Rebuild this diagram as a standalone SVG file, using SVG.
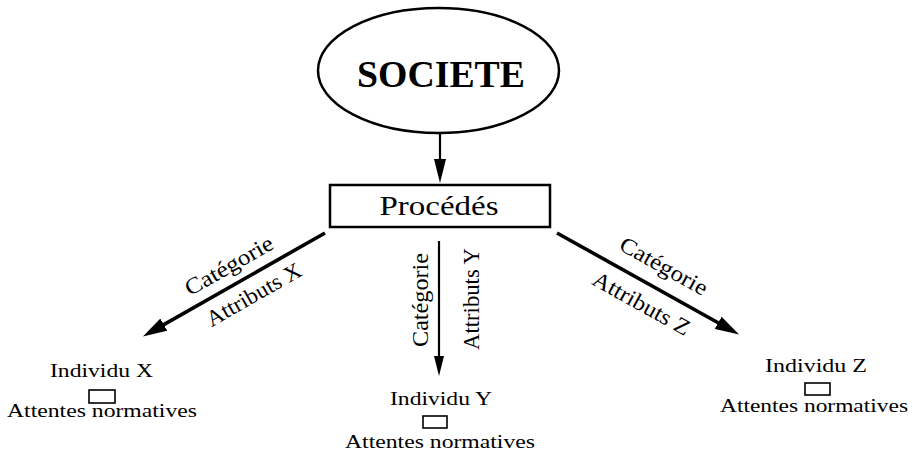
<svg xmlns="http://www.w3.org/2000/svg" width="913" height="463" viewBox="0 0 913 463">
  <style>
    .lbl { font-family: "Liberation Serif", "Times New Roman", serif; fill: #000; text-anchor: middle; }
    .shape { fill: #fff; stroke: #000; }
    .edge { stroke: #000; fill: none; }
  </style>
  <defs>
    <marker id="headHeavy" viewBox="0 0 24 14" refX="1" refY="7" markerWidth="24" markerHeight="14" markerUnits="userSpaceOnUse" orient="auto">
      <path d="M0,0 L24,7 L0,14 z" fill="#000"/>
    </marker>
    <marker id="headTop" viewBox="0 0 24 12" refX="1" refY="6" markerWidth="24" markerHeight="12" markerUnits="userSpaceOnUse" orient="auto">
      <path d="M0,0 L24,6 L0,12 z" fill="#000"/>
    </marker>
    <marker id="headLight" viewBox="0 0 20 10" refX="1" refY="5" markerWidth="20" markerHeight="10" markerUnits="userSpaceOnUse" orient="auto">
      <path d="M0,0 L20,5 L0,10 z" fill="#000"/>
    </marker>
  </defs>

  <rect width="913" height="463" fill="#fff"/>

  <!-- connectors -->
  <g id="connectors">
    <line class="edge" x1="440" y1="133" x2="440" y2="160" stroke-width="2.2" marker-end="url(#headTop)"/>
    <line class="edge" x1="325" y1="233" x2="162.9" y2="325.1" stroke-width="3.6" marker-end="url(#headHeavy)"/>
    <line class="edge" x1="439" y1="241" x2="439" y2="357" stroke-width="2.2" marker-end="url(#headLight)"/>
    <line class="edge" x1="557" y1="233" x2="719" y2="323.3" stroke-width="3.6" marker-end="url(#headHeavy)"/>

    <!-- edge labels -->
    <text class="lbl" font-size="22.5" textLength="98" lengthAdjust="spacingAndGlyphs" x="232.7" y="272" transform="rotate(-29.6 232.7 272)">Catégorie</text>
    <text class="lbl" font-size="22.5" textLength="106" lengthAdjust="spacingAndGlyphs" x="257.5" y="301" transform="rotate(-29.6 257.5 301)">Attributs X</text>

    <text class="lbl" font-size="23" textLength="94" lengthAdjust="spacingAndGlyphs" x="428" y="300" transform="rotate(-90 428 300)">Catégorie</text>
    <text class="lbl" font-size="23" textLength="102" lengthAdjust="spacingAndGlyphs" x="479" y="299" transform="rotate(-90 479 299)">Attributs Y</text>

    <text class="lbl" font-size="22.5" textLength="97" lengthAdjust="spacingAndGlyphs" x="660.2" y="272.5" transform="rotate(29.1 660.2 272.5)">Catégorie</text>
    <text class="lbl" font-size="22.5" textLength="108" lengthAdjust="spacingAndGlyphs" x="637.9" y="310" transform="rotate(29.1 637.9 310)">Attributs Z</text>
  </g>

  <!-- nodes -->
  <g id="societe">
    <ellipse class="shape" cx="438.5" cy="70.5" rx="120.5" ry="62.5" stroke-width="2.5"/>
    <text class="lbl" font-size="38" font-weight="bold" x="441" y="87" textLength="168" lengthAdjust="spacingAndGlyphs">SOCIETE</text>
  </g>

  <g id="procedes">
    <rect class="shape" x="330" y="185" width="220" height="42" stroke-width="2.5"/>
    <text class="lbl" font-size="28" x="439" y="215" textLength="119" lengthAdjust="spacingAndGlyphs">Procédés</text>
  </g>

  <g id="individu-x">
    <text class="lbl" font-size="18.5" x="101.5" y="377" textLength="103" lengthAdjust="spacingAndGlyphs">Individu X</text>
    <rect class="shape" x="89" y="390" width="26" height="13" stroke-width="1.6"/>
    <text class="lbl" font-size="18.5" x="102" y="417" textLength="190" lengthAdjust="spacingAndGlyphs">Attentes normatives</text>
  </g>

  <g id="individu-y">
    <text class="lbl" font-size="18.5" x="441" y="405" textLength="102" lengthAdjust="spacingAndGlyphs">Individu Y</text>
    <rect class="shape" x="423" y="416" width="24" height="12" stroke-width="1.6"/>
    <text class="lbl" font-size="18.5" x="440" y="448" textLength="190" lengthAdjust="spacingAndGlyphs">Attentes normatives</text>
  </g>

  <g id="individu-z">
    <text class="lbl" font-size="18.5" x="816" y="372" textLength="102" lengthAdjust="spacingAndGlyphs">Individu Z</text>
    <rect class="shape" x="805" y="383" width="25" height="12" stroke-width="1.6"/>
    <text class="lbl" font-size="18.5" x="814" y="412" textLength="188" lengthAdjust="spacingAndGlyphs">Attentes normatives</text>
  </g>
</svg>
